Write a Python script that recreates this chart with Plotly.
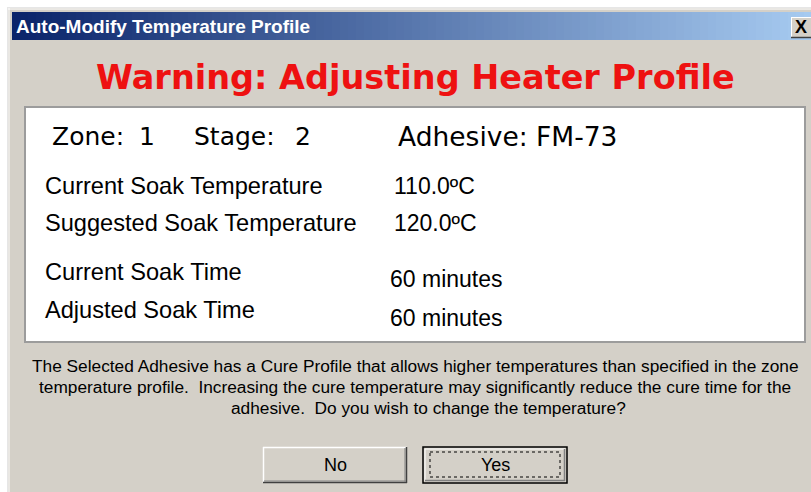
import plotly.graph_objects as go

# ---- content ----
window_title = "Auto-Modify Temperature Profile"
close_label = "X"
warning_text = "Warning: Adjusting Heater Profile"
header_items = ["Zone:", "1", "Stage:", "2", "Adhesive: FM-73"]
row_labels = ["Current Soak Temperature", "Suggested Soak Temperature",
              "Current Soak Time", "Adjusted Soak Time"]
row_values = ["110.0ºC", "120.0ºC", "60 minutes", "60 minutes"]
message_lines = [
    "The Selected Adhesive has a Cure Profile that allows higher temperatures than specified in the zone",
    "temperature profile.  Increasing the cure temperature may significantly reduce the cure time for the",
    "adhesive.  Do you wish to change the temperature?",
]
button_labels = ["No", "Yes"]

# ---- layout positions (page pixels) ----
W, H = 811, 492
OFF = 8  # white page margin around the dialog (top / left)
header_x = [50, 137, 192, 293, 396]
header_y = 136
label_x = 43
value_x = [392, 392, 388, 388]
label_y = [186, 223, 272, 310]
value_y = [186, 223, 279, 318]
msg_x = [415, 415, 428]
msg_y = [366, 387, 408]
btn_x = [(263, 407), (423, 567)]
btn_y = (447, 483)

BG = "#d4d0c8"
shapes = []
ann = []


def rect(x0, y0, x1, y1, fill=None, line=None, lw=1, dash=None):
    d = dict(type="rect", xref="x", yref="y", x0=x0, y0=y0, x1=x1, y1=y1,
             line=dict(width=lw if line else 0, color=line or "rgba(0,0,0,0)"))
    if dash:
        d["line"]["dash"] = dash
    if fill:
        d["fillcolor"] = fill
    shapes.append(d)


def hline(x0, x1, y, color, lw=1):
    shapes.append(dict(type="line", xref="x", yref="y", x0=x0, x1=x1, y0=y, y1=y,
                       line=dict(color=color, width=lw)))


def vline(x, y0, y1, color, lw=1):
    shapes.append(dict(type="line", xref="x", yref="y", x0=x, x1=x, y0=y0, y1=y1,
                       line=dict(color=color, width=lw)))


def text(x, y, s, size, color="#000000", family="Liberation Sans", bold=False, anchor="left"):
    ann.append(dict(x=x, y=y, xref="x", yref="y", text=("<b>%s</b>" % s) if bold else s,
                    showarrow=False, xanchor=anchor, yanchor="middle",
                    font=dict(size=size, color=color, family=family)))


# dialog background
rect(OFF - 1, OFF - 1, W + 2, H + 2, fill=BG)
vline(OFF - 0.5, OFF - 1, H + 1, "#e6e6e6", 1)
hline(OFF - 1, W + 1, OFF - 0.5, "#e6e6e6", 1)
vline(OFF + 1, OFF, H + 1, "#ffffff", 1)
hline(OFF, W + 1, OFF + 1, "#ffffff", 1)

# title bar gradient (styling only)
c0 = (10, 36, 106)
c1 = (166, 202, 240)
n = 100
x_start, x_end = 12, W + 1
step = (x_end - x_start) / n
for i in range(n):
    t = i / (n - 1)
    col = "rgb(%d,%d,%d)" % tuple(round(a + (b - a) * t) for a, b in zip(c0, c1))
    rect(x_start + i * step, 12, x_start + (i + 1) * step + 0.6, 40, fill=col)

text(14, 26, window_title, 19, color="#ffffff", bold=True)

# close button
rect(791, 17, W + 2, 38, fill=BG)
hline(791, W + 1, 17.5, "#ffffff", 1)
vline(791.5, 17, 38, "#ffffff", 1)
hline(791, W + 1, 37.5, "#404040", 1.5)
text(801, 27, close_label, 18, bold=True, anchor="center")

# warning
text(415, 77, warning_text, 33.5, color="#ee1111", family="DejaVu Sans", bold=True, anchor="center")

# white info box
rect(25, 107, 805, 342, fill="#ffffff", line="#9c9c9c", lw=2)

header_sizes = [25, 25, 25, 25, 26.5]
for x, s, fs in zip(header_x, header_items, header_sizes):
    text(x, header_y, s, fs, family="DejaVu Sans")

for lab, val, vx, ly, vy in zip(row_labels, row_values, value_x, label_y, value_y):
    text(label_x, ly, lab, 23.6)
    text(vx, vy, val, 23)

for s, x, y in zip(message_lines, msg_x, msg_y):
    text(x, y, s, 17.3, anchor="center")

# buttons
for i, ((bx0, bx1), lab) in enumerate(zip(btn_x, button_labels)):
    by0, by1 = btn_y
    rect(bx0, by0, bx1, by1, fill=BG)
    if i == 1:
        rect(bx0, by0, bx1, by1, line="#000000", lw=1.5)
        hline(bx0 + 2, bx1 - 2, by0 + 2, "#ffffff", 1)
        vline(bx0 + 2, by0 + 2, by1 - 2, "#ffffff", 1)
        hline(bx0 + 2, bx1 - 2, by1 - 2.5, "#808080", 1.5)
        vline(bx1 - 2.5, by0 + 2, by1 - 2, "#808080", 1.5)
        rect(bx0 + 7, by0 + 5, bx1 - 7, by1 - 6, line="#000000", lw=1, dash="dot")
    else:
        hline(bx0, bx1, by0 + 0.5, "#ffffff", 1.5)
        vline(bx0 + 0.5, by0, by1, "#ffffff", 1.5)
        hline(bx0, bx1, by1 - 0.5, "#404040", 1.5)
        vline(bx1 - 0.5, by0, by1, "#404040", 1.5)
        hline(bx0 + 1, bx1 - 1, by1 - 2, "#808080", 1)
        vline(bx1 - 2, by0 + 1, by1 - 1, "#808080", 1)
    text((bx0 + bx1) / 2, (by0 + by1) / 2, lab, 18, anchor="center")

fig = go.Figure()
fig.update_layout(
    width=W, height=H,
    margin=dict(l=0, r=0, t=0, b=0),
    paper_bgcolor="#ffffff", plot_bgcolor="#ffffff",
    xaxis=dict(range=[0, W], visible=False, fixedrange=True),
    yaxis=dict(range=[H, 0], visible=False, fixedrange=True),
    shapes=shapes, annotations=ann, showlegend=False,
)
fig.write_html(
    "out.html",
    config={"displayModeBar": False},
    post_script="document.body.style.margin='0';document.body.style.overflow='hidden';",
)
